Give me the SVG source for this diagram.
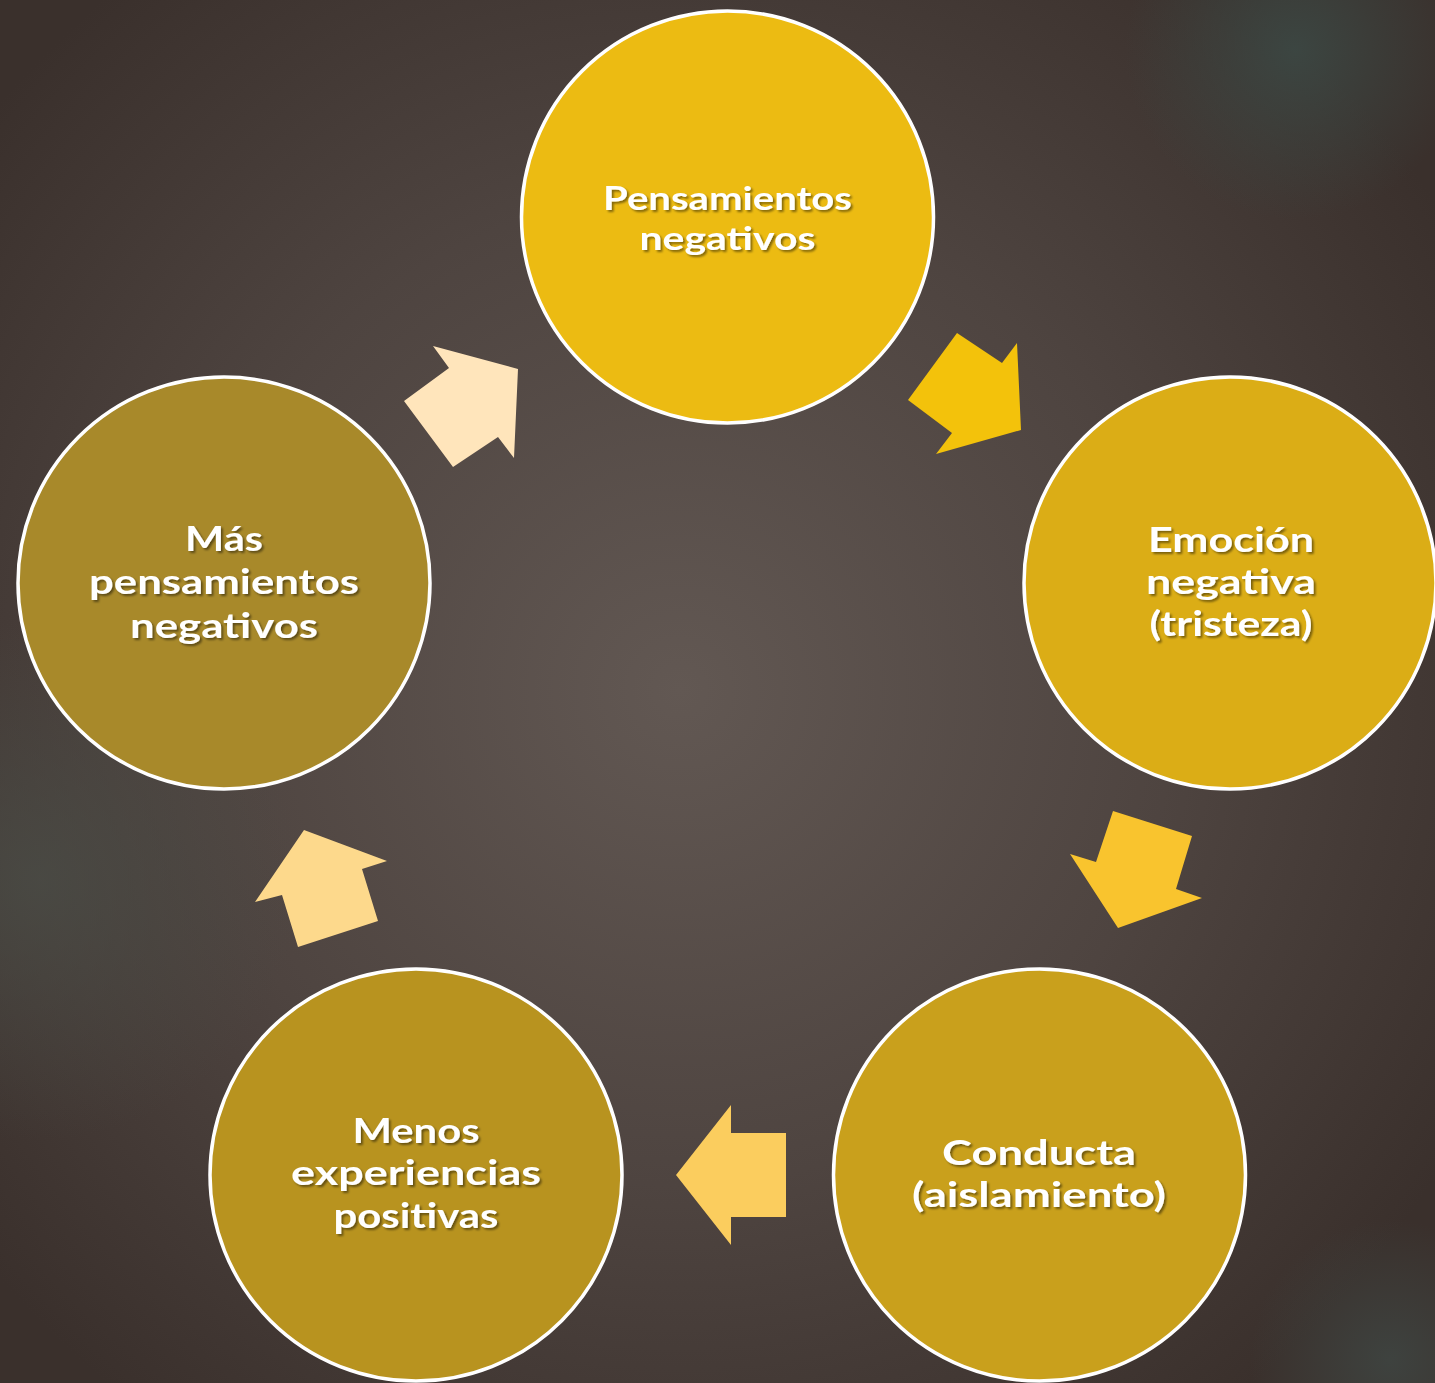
<svg xmlns="http://www.w3.org/2000/svg" width="1435" height="1383" viewBox="0 0 1435 1383">
<defs>
<radialGradient id="bg" cx="680" cy="690" r="900" gradientUnits="userSpaceOnUse">
<stop offset="0" stop-color="#625853"/>
<stop offset="0.55" stop-color="#4E4440"/>
<stop offset="1" stop-color="#3A302C"/>
</radialGradient>
<radialGradient id="spot1" cx="1295" cy="50" r="170" gradientUnits="userSpaceOnUse">
<stop offset="0" stop-color="#3C4844" stop-opacity="0.9"/>
<stop offset="1" stop-color="#3C4844" stop-opacity="0"/>
</radialGradient>
<radialGradient id="spot2" cx="40" cy="880" r="260" gradientUnits="userSpaceOnUse">
<stop offset="0" stop-color="#4A4C46" stop-opacity="0.8"/>
<stop offset="1" stop-color="#4A4C46" stop-opacity="0"/>
</radialGradient>
<radialGradient id="spot3" cx="1390" cy="1360" r="140" gradientUnits="userSpaceOnUse">
<stop offset="0" stop-color="#3F4744" stop-opacity="0.8"/>
<stop offset="1" stop-color="#3F4744" stop-opacity="0"/>
</radialGradient>
<filter id="sh" x="-10%" y="-10%" width="120%" height="130%">
<feDropShadow dx="2" dy="2" stdDeviation="1.2" flood-color="#000" flood-opacity="0.45"/>
</filter>
<style>
.c{stroke:#FFFFFF;stroke-width:3.5}
.t{font-family:Lato,"Open Sans","DejaVu Sans",sans-serif;font-weight:bold;font-size:35px;fill:#FFFFFF;text-anchor:middle;filter:url(#sh)}
.s{font-size:32px}
</style>
</defs>
<rect width="1435" height="1383" fill="url(#bg)"/>
<rect width="1435" height="1383" fill="url(#spot1)"/>
<rect width="1435" height="1383" fill="url(#spot2)"/>
<rect width="1435" height="1383" fill="url(#spot3)"/>

<g id="connectors">
<polygon id="a1" fill="#F3C20B" points="957,333 1002,363 1017,343 1021,430 936,454 952,433 908,400"/>
<polygon id="a2" fill="#F9C42E" points="1113,811 1192,836 1176,889 1202,898 1118,928 1070,854 1096,862"/>
<polygon id="a3" fill="#FBCD5E" points="786,1133 731,1133 731,1105 676,1175 731,1245 731,1217 786,1217"/>
<polygon id="a4" fill="#FDD98C" points="298,947 378,921 362,869 387,861 304,830 255,902 282,895"/>
<polygon id="a5" fill="#FFE5BB" points="453,467 404,401 449,368 433,346 518,369 514,458 498,437"/>
</g>

<g id="n1">
<circle class="c" cx="727.5" cy="217" r="206" fill="#ECBB12"/>
<text class="t s" x="727.5" y="210" textLength="249" lengthAdjust="spacingAndGlyphs">Pensamientos</text>
<text class="t s" x="727.5" y="250" textLength="176" lengthAdjust="spacingAndGlyphs">negativos</text>
</g>
<g id="n2">
<circle class="c" cx="1230" cy="583" r="206" fill="#DBAD16"/>
<text class="t" x="1231" y="552" textLength="166" lengthAdjust="spacingAndGlyphs">Emoción</text>
<text class="t" x="1231" y="594" textLength="170" lengthAdjust="spacingAndGlyphs">negativa</text>
<text class="t" x="1231" y="636" textLength="163" lengthAdjust="spacingAndGlyphs">(tristeza)</text>
</g>
<g id="n3">
<circle class="c" cx="1039.5" cy="1175" r="206" fill="#C9A01C"/>
<text class="t" x="1039" y="1165" textLength="194" lengthAdjust="spacingAndGlyphs">Conducta</text>
<text class="t" x="1039" y="1207" textLength="254" lengthAdjust="spacingAndGlyphs">(aislamiento)</text>
</g>
<g id="n4">
<circle class="c" cx="416" cy="1175" r="206" fill="#B8931F"/>
<text class="t" x="416" y="1143" textLength="127" lengthAdjust="spacingAndGlyphs">Menos</text>
<text class="t" x="416" y="1185" textLength="250" lengthAdjust="spacingAndGlyphs">experiencias</text>
<text class="t" x="416" y="1228" textLength="165" lengthAdjust="spacingAndGlyphs">positivas</text>
</g>
<g id="n5">
<circle class="c" cx="224" cy="583" r="206" fill="#A8892A"/>
<text class="t" x="224" y="551" textLength="78" lengthAdjust="spacingAndGlyphs">Más</text>
<text class="t" x="224" y="594" textLength="270" lengthAdjust="spacingAndGlyphs">pensamientos</text>
<text class="t" x="224" y="638" textLength="188" lengthAdjust="spacingAndGlyphs">negativos</text>
</g>
</svg>
